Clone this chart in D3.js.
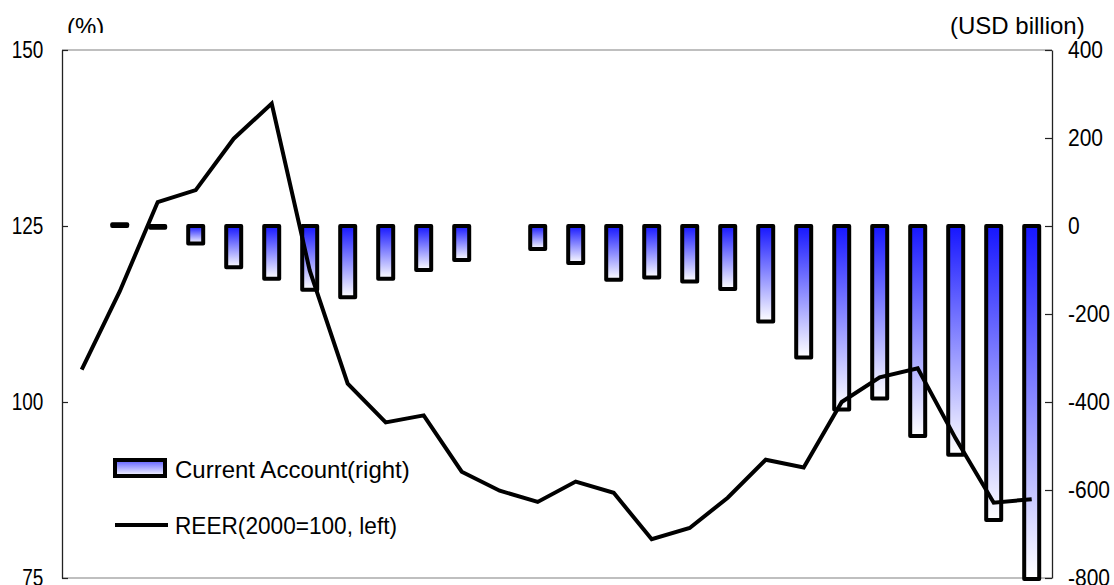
<!DOCTYPE html>
<html>
<head>
<meta charset="utf-8">
<script src="https://cdn.jsdelivr.net/npm/d3@7"></script>
<style>
  html, body { margin: 0; padding: 0; background: #fff; }
  svg { display: block; font-family: "Liberation Sans", Arial, sans-serif; }
</style>
</head>
<body>
<svg id="chart" width="1114" height="585"></svg>
<script>
// Years on the category axis (not labelled)
const years = ["1980","1981","1982","1983","1984","1985","1986","1987","1988","1989",
               "1990","1991","1992","1993","1994","1995","1996","1997","1998","1999",
               "2000","2001","2002","2003","2004","2005"];

// Current account balance, USD billion (right axis); null = no bar
const currentAccount = [null, 4, -4, -40, -94, -120, -145, -162, -120, -100,
                        -77, null, -52, -84, -122, -117, -126, -143, -217, -299,
                        -417, -392, -477, -520, -668, -802];

// Real effective exchange rate, 2000 = 100 (left axis)
const reer = [104.6, 115.7, 128.4, 130.1, 137.4, 142.4, 118.7, 102.6, 97.1, 98.1,
              90.1, 87.4, 85.8, 88.7, 87.1, 80.5, 82.1, 86.4, 91.8, 90.7,
              100.0, 103.5, 104.8, 94.8, 85.7, 86.2];

const leftTicks = [75, 100, 125, 150];
const rightTicks = [-800, -600, -400, -200, 0, 200, 400];

const svg = d3.select("#chart");
const plot = { left: 62, right: 1052, top: 50, bottom: 578 };

const x = d3.scaleBand().domain(years).range([plot.left + 0.7, plot.right - 1.3]);
const yL = d3.scaleLinear().domain([75, 150]).range([plot.bottom, plot.top]);
const yR = d3.scaleLinear().domain([-800, 400]).range([plot.bottom, plot.top]);

// gradients
const defs = svg.append("defs");
const grad = defs.append("linearGradient").attr("id", "barGrad")
  .attr("x1", 0).attr("y1", 0).attr("x2", 0).attr("y2", 1);
grad.append("stop").attr("offset", "0%").attr("stop-color", "#1616ff");
grad.append("stop").attr("offset", "100%").attr("stop-color", "#ffffff");

const legGrad = defs.append("linearGradient").attr("id", "legGrad")
  .attr("x1", 0).attr("y1", 0).attr("x2", 0).attr("y2", 1);
legGrad.append("stop").attr("offset", "0%").attr("stop-color", "#5a5aff");
legGrad.append("stop").attr("offset", "100%").attr("stop-color", "#ffffff");

defs.append("clipPath").attr("id", "unitClip")
  .append("rect").attr("x", 0).attr("y", 0).attr("width", 200).attr("height", 33);

// frame: top and bottom borders
svg.append("line").attr("x1", plot.left).attr("x2", plot.right)
  .attr("y1", plot.top).attr("y2", plot.top)
  .attr("stroke", "#808080").attr("stroke-width", 1.2);
svg.append("line").attr("x1", plot.left).attr("x2", plot.right)
  .attr("y1", plot.bottom).attr("y2", plot.bottom)
  .attr("stroke", "#808080").attr("stroke-width", 1.2);

// bars
const barW = 15;
const barData = years.map((y, i) => ({ year: y, v: currentAccount[i] }))
  .filter(d => d.v !== null);
svg.append("g").selectAll("rect").data(barData).join("rect")
  .attr("x", d => x(d.year) + (x.bandwidth() - barW) / 2)
  .attr("y", d => yR(Math.max(0, d.v)))
  .attr("width", barW)
  .attr("height", d => Math.abs(yR(d.v) - yR(0)))
  .attr("fill", "url(#barGrad)")
  .attr("stroke", "#000")
  .attr("stroke-width", 4)
  .attr("stroke-linejoin", "round");

// REER line
const line = d3.line()
  .x((d, i) => x(years[i]) + x.bandwidth() / 2)
  .y(d => yL(d));
svg.append("path").datum(reer)
  .attr("d", line)
  .attr("fill", "none")
  .attr("stroke", "#000")
  .attr("stroke-width", 4)
  .attr("stroke-linejoin", "miter");

// axes
function squeeze(sel, factor) {
  sel.each(function () {
    const w = this.getComputedTextLength();
    d3.select(this).attr("textLength", w * factor).attr("lengthAdjust", "spacingAndGlyphs");
  });
}
const plain = d => String(d);

const gL = svg.append("g").attr("transform", `translate(${plot.left},0)`)
  .call(d3.axisLeft(yL).tickValues(leftTicks).tickFormat(plain)
    .tickSize(-6).tickSizeOuter(0).tickPadding(18.7));
gL.select(".domain").attr("stroke", "#222").attr("stroke-width", 1.3);
gL.selectAll(".tick line").attr("stroke", "#222").attr("stroke-width", 1.2);
gL.selectAll("text").attr("font-size", 24).attr("fill", "#000")
  .attr("font-family", "Liberation Sans, Arial, sans-serif").call(squeeze, 0.79);

const gR = svg.append("g").attr("transform", `translate(${plot.right},0)`)
  .call(d3.axisRight(yR).tickValues(rightTicks).tickFormat(plain)
    .tickSize(-7).tickSizeOuter(0).tickPadding(16));
gR.select(".domain").attr("stroke", "#222").attr("stroke-width", 1.3);
gR.selectAll(".tick line").attr("stroke", "#222").attr("stroke-width", 1.2);
gR.selectAll("text").attr("font-size", 24).attr("fill", "#000")
  .attr("font-family", "Liberation Sans, Arial, sans-serif").call(squeeze, 0.875);

// unit labels
svg.append("text").attr("x", 67).attr("y", 34.5)
  .attr("clip-path", "url(#unitClip)")
  .attr("font-size", 24).text("(%)");
svg.append("text").attr("x", 950).attr("y", 34)
  .attr("font-size", 24).text("(USD billion)");

// legend
svg.append("rect").attr("x", 115).attr("y", 460).attr("width", 50).attr("height", 16)
  .attr("fill", "url(#legGrad)").attr("stroke", "#000").attr("stroke-width", 4);
svg.append("text").attr("x", 175).attr("y", 477.5).attr("font-size", 24)
  .text("Current Account(right)");
svg.append("line").attr("x1", 115).attr("x2", 168).attr("y1", 525).attr("y2", 525)
  .attr("stroke", "#000").attr("stroke-width", 4);
svg.append("text").attr("x", 175).attr("y", 533.5).attr("font-size", 24)
  .attr("textLength", 222).attr("lengthAdjust", "spacingAndGlyphs")
  .text("REER(2000=100, left)");
</script>
</body>
</html>
